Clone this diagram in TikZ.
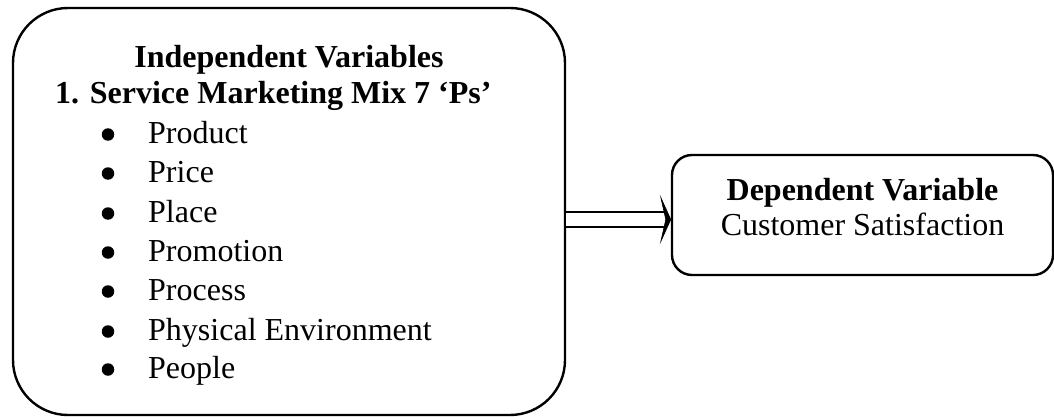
\documentclass[tikz,border=0pt]{standalone}
\usepackage{fontspec}
\setmainfont{Liberation Serif}
\usetikzlibrary{calc}
\tikzset{
  bigbox/.style={draw, line width=2.4pt, rounded corners=55pt, minimum width=552pt, minimum height=407pt, inner sep=0pt},
  smallbox/.style={draw, line width=2.4pt, rounded corners=20pt, minimum width=381pt, minimum height=120pt, inner sep=0pt},
  txt/.style={inner sep=0pt, font=\fontsize{32}{38}\selectfont},
  head/.style={txt, font=\fontsize{32}{38}\selectfont\bfseries},
  bul/.style={circle, fill, inner sep=0pt, minimum size=12.5pt},
  item/.style={txt, anchor=base west},
  conn/.style={double, double distance=12.6pt, line width=2.4pt},
  arrowhead/.style={fill, draw, line width=0.6pt, line join=miter}
}
\begin{document}
\begin{tikzpicture}[x=1pt, y=-1pt]
\useasboundingbox (0,0) rectangle (1054,417);
\node[bigbox] (L) at (289,211.5) {};
\node[smallbox] (R) at (862.5,215) {};
\node[head, anchor=base] (ih) at (289,68) {Independent Variables};
\node[head, anchor=base west] (sm) at (55,103) {1. Service Marketing Mix 7 ‘Ps’};
\foreach \n/\y/\t in {a/143/Product, b/182/Price, c/222/Place, d/261/Promotion, e/300/Process, f/340/Physical Environment, g/378/People}{
  \node[bul] (b\n) at (108,\y-8.5) {};
  \node[item] (i\n) at (148,\y) {\t};
}
\node[head, anchor=base] (dh) at (862.5,200) {Dependent Variable};
\node[txt, anchor=base] (cs) at (862.5,235) {Customer Satisfaction};
\coordinate (tip) at ([yshift=-4.5pt]R.west);
\draw[conn] ([yshift=-8pt]L.east) -- ($(tip)+(-5,0)$);
\fill[arrowhead] ($(tip)+(-10,-22)$) -- (tip) -- ($(tip)+(-10,22)$) -- ($(tip)+(-5,0)$) -- cycle;
\end{tikzpicture}
\end{document}
